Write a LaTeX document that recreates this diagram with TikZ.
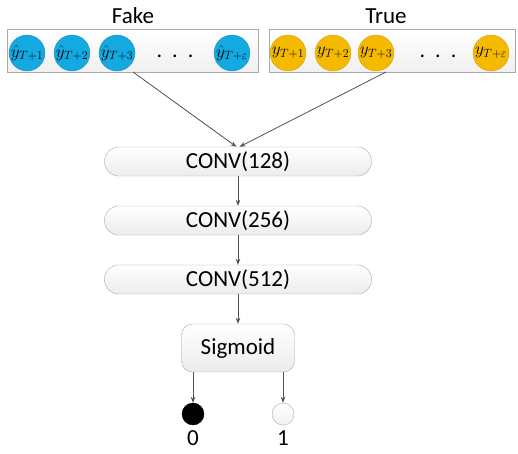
\documentclass[tikz,border=0pt]{standalone}
\usepackage{fontspec}
\setmainfont{Carlito}
\usetikzlibrary{arrows.meta}
\definecolor{fakeblue}{RGB}{20,170,225}
\definecolor{trueorange}{RGB}{245,185,0}
\definecolor{edgegray}{RGB}{170,170,170}
\definecolor{arrowgray}{RGB}{80,80,80}
\tikzset{
  holder/.style={draw=edgegray, top color=white, bottom color=gray!12, minimum width=251, minimum height=43, inner sep=0},
  fakecirc/.style={circle, fill=fakeblue, draw=fakeblue!80!black, line width=0.3, minimum size=36, inner sep=0, font=\fontsize{18}{18}\selectfont},
  truecirc/.style={circle, fill=trueorange, draw=trueorange!85!black, line width=0.3, minimum size=36, inner sep=0, font=\fontsize{18}{18}\selectfont},
  layerbox/.style={draw=edgegray, rounded corners=14, top color=white, bottom color=gray!15, minimum width=267, minimum height=29, inner sep=0, font=\fontsize{23}{23}\selectfont},
  sigbox/.style={draw=edgegray, rounded corners=11, top color=white, bottom color=gray!15, minimum width=113, minimum height=48, inner sep=0, font=\fontsize{23}{23}\selectfont},
  lbl/.style={font=\fontsize{23}{23}\selectfont, inner sep=0},
  dotlbl/.style={font=\fontsize{22}{22}\selectfont, inner sep=0},
  conn/.style={draw=arrowgray, line width=0.8, -{Stealth[length=6,width=4.5]}},
}
\begin{document}
\begin{tikzpicture}[x=1pt,y=-1pt]
\useasboundingbox (0,0) rectangle (518,453);
% holders
\node[holder] (fakebox) at (133,51) {};
\node[holder, minimum width=246] (truebox) at (392,51) {};
\node[lbl] (fakelbl) at (133,16) {Fake};
\node[lbl] (truelbl) at (386,16) {True};
% fake circles
\node[fakecirc] (f1) at (27,53) {$\hat{y}_{T+1}$};
\node[fakecirc] (f2) at (72,53) {$\hat{y}_{T+2}$};
\node[fakecirc] (f3) at (117,53) {$\hat{y}_{T+3}$};
\node[fakecirc] (f4) at (232,53) {$\hat{y}_{T+\varepsilon}$};
\node[dotlbl] (fd) at (175,56) {.\hspace{10pt}.\hspace{10pt}.};
% true circles
\node[truecirc] (t1) at (288,53) {$y_{T+1}$};
\node[truecirc] (t2) at (333,53) {$y_{T+2}$};
\node[truecirc] (t3) at (376,53) {$y_{T+3}$};
\node[truecirc] (t4) at (491,53) {$y_{T+\varepsilon}$};
\node[dotlbl] (td) at (438,56) {.\hspace{10pt}.\hspace{10pt}.};
% layers
\node[layerbox] (c1) at (238,161.5) {CONV(128)};
\node[layerbox] (c2) at (238,220.5) {CONV(256)};
\node[layerbox] (c3) at (238,279.5) {CONV(512)};
\node[sigbox] (sig) at (238,348) {Sigmoid};
% outputs
\node[circle, fill=black, draw=black, minimum size=22, inner sep=0] (o0) at (193,414) {};
\node[circle, top color=white, bottom color=gray!10, draw=edgegray, minimum size=22, inner sep=0] (o1) at (283,414) {};
\node[lbl] (l0) at (193,438) {0};
\node[lbl] (l1) at (283,438) {1};
% connectors
\coordinate (fs) at (133,72);
\coordinate (ts) at (386,72);
\draw[conn] (fs) -- ([xshift=-1.5]c1.north);
\draw[conn] (ts) -- ([xshift=1.5]c1.north);
\draw[conn] (c1) -- (c2);
\draw[conn] (c2) -- (c3);
\draw[conn] (c3) -- (sig);
\draw[conn] (sig.south -| o0) -- (o0);
\draw[conn] (sig.south -| o1) -- (o1);
\end{tikzpicture}
\end{document}
